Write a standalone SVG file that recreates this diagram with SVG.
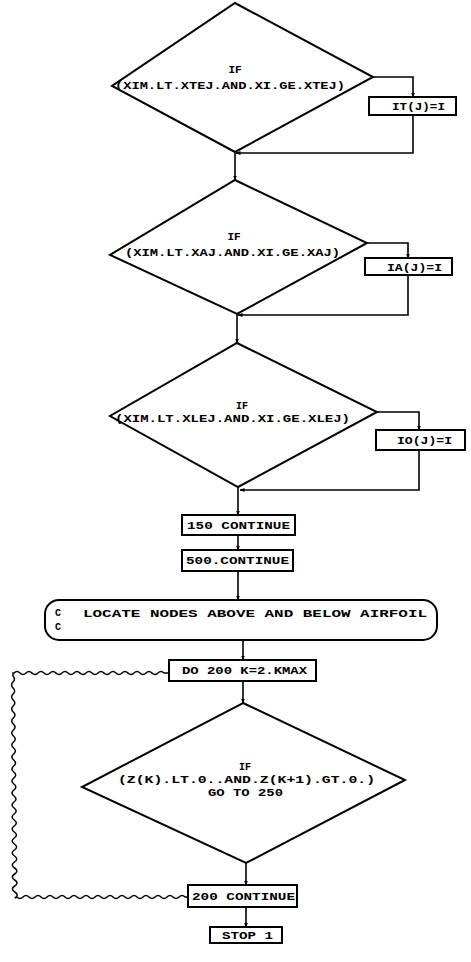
<svg xmlns="http://www.w3.org/2000/svg" width="471" height="962" viewBox="0 0 471 962">
<defs>
<marker id="ah" viewBox="0 0 10 10" refX="9" refY="5" markerWidth="5" markerHeight="5" orient="auto" markerUnits="userSpaceOnUse">
<path d="M0,1 L10,5 L0,9 z" fill="#000"/>
</marker>
<style>
.shape{fill:#fff;stroke:#000;stroke-width:2}
.ln{fill:none;stroke:#000;stroke-width:1.6}
.wv{fill:none;stroke:#000;stroke-width:1.5}
text{font-family:"Liberation Mono","DejaVu Sans Mono",monospace;font-weight:bold;font-size:11px;fill:#000}
.s{font-size:10px}
.c{text-anchor:middle}
</style>
</defs>
<rect width="471" height="962" fill="#fff"/>
<g id="connectors">
<path class="ln" d="M373,77 H413 V97" marker-end="url(#ah)"/>
<path class="ln" d="M413,115 V153 H236" marker-end="url(#ah)"/>
<path class="ln" d="M235,152 V180" marker-end="url(#ah)"/>
<path class="ln" d="M367,243 H408 V258" marker-end="url(#ah)"/>
<path class="ln" d="M408,275 V315 H238" marker-end="url(#ah)"/>
<path class="ln" d="M237,314 V343" marker-end="url(#ah)"/>
<path class="ln" d="M377,412 H419 V430" marker-end="url(#ah)"/>
<path class="ln" d="M419,450 V490 H240" marker-end="url(#ah)"/>
<path class="ln" d="M238,487 V515" marker-end="url(#ah)"/>
<path class="ln" d="M238,535 V550" marker-end="url(#ah)"/>
<path class="ln" d="M238,571 V600" marker-end="url(#ah)"/>
<path class="ln" d="M243,640 V660" marker-end="url(#ah)"/>
<path class="ln" d="M243,681 V703" marker-end="url(#ah)"/>
<path class="ln" d="M246,863 V885" marker-end="url(#ah)"/>
<path class="ln" d="M246,907 V927" marker-end="url(#ah)"/>
<path class="wv" d="M168,673 L164,673 q-3,-3 -6,0 t-6,0 t-6,0 t-6,0 t-6,0 t-6,0 t-6,0 t-6,0 t-6,0 t-6,0 t-6,0 t-6,0 t-6,0 t-6,0 t-6,0 t-6,0 t-6,0 t-6,0 t-6,0 t-6,0 t-6,0 t-6,0 t-6,0 t-6,0 t-6,0 L13,673 L13,676 q3,3 0,6 t0.1,6 t0,6 t0.1,6 t0,6 t0.1,6 t0,6 t0.1,6 t0,6 t0.1,6 t0,6 t0.1,6 t0,6 t0.1,6 t0,6 t0.1,6 t0,6 t0.1,6 t0,6 t0.1,6 t0,6 t0.1,6 t0,6 t0.1,6 t0,6 t0.1,6 t0,6 t0.1,6 t0,6 t0.1,6 t0,6 t0.1,6 t0,6 t0.1,6 t0,6 t0.1,6 t0,6 L17,897 q3,3 6,0 t6,0 t6,0 t6,0 t6,0 t6,0 t6,0 t6,0 t6,0 t6,0 t6,0 t6,0 t6,0 t6,0 t6,0 t6,0 t6,0 t6,0 t6,0 t6,0 t6,0 t6,0 t6,0 t6,0 t6,0 t6,0 t6,0 t6,0 L188,897"/>
</g>
<g id="d1">
<polygon class="shape" points="235,3 373,77 235,152 112,86"/>
<text class="c" x="235" y="73">IF</text>
<text x="115" y="89" textLength="230" lengthAdjust="spacingAndGlyphs">(XIM.LT.XTEJ.AND.XI.GE.XTEJ)</text>
</g>
<g id="b1">
<rect class="shape" x="369" y="97" width="87" height="18"/>
<text x="392" y="110" textLength="53" lengthAdjust="spacingAndGlyphs">IT(J)=I</text>
</g>
<g id="d2">
<polygon class="shape" points="235,180 367,243 237,314 110,255"/>
<text class="c" x="234" y="240">IF</text>
<text x="125" y="256" textLength="215" lengthAdjust="spacingAndGlyphs">(XIM.LT.XAJ.AND.XI.GE.XAJ)</text>
</g>
<g id="b2">
<rect class="shape" x="365" y="258" width="87" height="17"/>
<text x="387" y="271" textLength="55" lengthAdjust="spacingAndGlyphs">IA(J)=I</text>
</g>
<g id="d3">
<polygon class="shape" points="237,343 377,412 238,487 110,416"/>
<text class="c s" x="242" y="409">IF</text>
<text class="s" x="115" y="422" textLength="235" lengthAdjust="spacingAndGlyphs">(XIM.LT.XLEJ.AND.XI.GE.XLEJ)</text>
</g>
<g id="b3">
<rect class="shape" x="376" y="430" width="89" height="20"/>
<text x="397" y="444" textLength="55" lengthAdjust="spacingAndGlyphs">IO(J)=I</text>
</g>
<g id="b150">
<rect class="shape" x="182" y="515" width="113" height="20"/>
<text x="187" y="529" textLength="103" lengthAdjust="spacingAndGlyphs">150 CONTINUE</text>
</g>
<g id="b500">
<rect class="shape" x="182" y="550" width="111" height="21"/>
<text x="186" y="564" textLength="103" lengthAdjust="spacingAndGlyphs">500.CONTINUE</text>
</g>
<g id="comment">
<rect class="shape" x="45" y="600" width="392" height="40" rx="14" ry="14"/>
<text class="s" x="55" y="616">C</text>
<text class="s" x="55" y="630">C</text>
<text x="83" y="617" textLength="344" lengthAdjust="spacingAndGlyphs">LOCATE NODES ABOVE AND BELOW AIRFOIL</text>
</g>
<g id="bdo">
<rect class="shape" x="169" y="660" width="147" height="21"/>
<text x="182" y="674" textLength="125" lengthAdjust="spacingAndGlyphs">DO 200 K=2.KMAX</text>
</g>
<g id="d4">
<polygon class="shape" points="243,703 405,780 246,863 82,787"/>
<text class="c s" x="245" y="770">IF</text>
<text class="s" x="118" y="783" textLength="257" lengthAdjust="spacingAndGlyphs">(Z(K).LT.0..AND.Z(K+1).GT.0.)</text>
<text class="s" x="208" y="796" textLength="75" lengthAdjust="spacingAndGlyphs">GO TO 250</text>
</g>
<g id="b200">
<rect class="shape" x="188" y="885" width="109" height="22"/>
<text x="192" y="900" textLength="103" lengthAdjust="spacingAndGlyphs">200 CONTINUE</text>
</g>
<g id="bstop">
<rect class="shape" x="210" y="927" width="72" height="16"/>
<text x="222" y="939" textLength="51" lengthAdjust="spacingAndGlyphs">STOP 1</text>
</g>
</svg>
